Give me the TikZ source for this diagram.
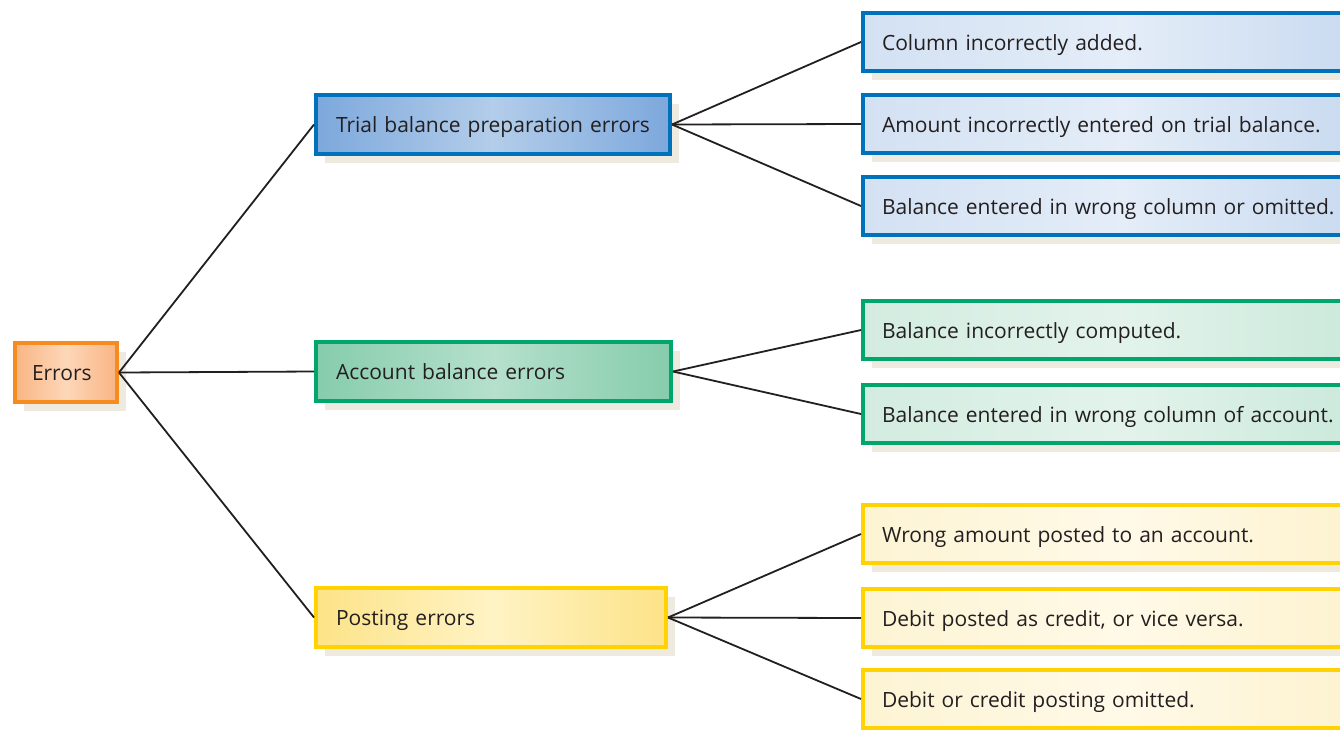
\documentclass[tikz,border=0pt]{standalone}
\usepackage{fontspec}
\setmainfont{Open Sans}
\usetikzlibrary{shadows}

\definecolor{inkc}{HTML}{231F20}
\definecolor{shadowc}{HTML}{EEEAE0}
\definecolor{orangeB}{HTML}{F68B1F}
\definecolor{blueB}{HTML}{0072BC}
\definecolor{greenB}{HTML}{00A66B}
\definecolor{yellowB}{HTML}{FFD200}
% fill tones: edge and centre of each gradient
\definecolor{orangeE}{HTML}{F9B584}
\definecolor{orangeC}{HTML}{FDD7B8}
\definecolor{blueE}{HTML}{7DA8DC}
\definecolor{blueC}{HTML}{B3CDEA}
\definecolor{greenE}{HTML}{86CCAC}
\definecolor{greenC}{HTML}{B5E0CC}
\definecolor{yellowE}{HTML}{FDE388}
\definecolor{yellowC}{HTML}{FEF3C4}
\definecolor{blueLL}{HTML}{D3E1F3}
\definecolor{blueLC}{HTML}{E4EDF8}
\definecolor{blueLR}{HTML}{C6D8EF}
\definecolor{greenLL}{HTML}{D3ECE0}
\definecolor{greenLC}{HTML}{E3F3EB}
\definecolor{greenLR}{HTML}{C8E8D9}
\definecolor{yellowLL}{HTML}{FDF4D3}
\definecolor{yellowLC}{HTML}{FFF9E8}
\definecolor{yellowLR}{HTML}{FDF2CC}

\tikzset{
  box/.style={rectangle, line width=4pt, anchor=west, inner xsep=20pt, inner ysep=0pt,
    align=left, text=inkc, font=\fontsize{21}{25}\selectfont,
    text height=16pt, text depth=0pt,
    drop shadow={shadow xshift=9pt, shadow yshift=-9pt, fill=shadowc, opacity=1}},
  midbox/.style={box, minimum height=59pt},
  leafbox/.style={box, minimum height=58pt, minimum width=520pt, text width=482pt, inner xsep=19pt},
  % middle color goes last: left/right color reset it
  orangebox/.style={midbox, draw=orangeB, left color=orangeE, right color=orangeE, middle color=orangeC},
  bluemid/.style={midbox, draw=blueB, left color=blueE, right color=blueE, middle color=blueC},
  greenmid/.style={midbox, draw=greenB, left color=greenE, right color=greenE, middle color=greenC},
  yellowmid/.style={midbox, draw=yellowB, left color=yellowE, right color=yellowE, middle color=yellowC},
  blueleaf/.style={leafbox, draw=blueB, left color=blueLL, right color=blueLR, middle color=blueLC},
  greenleaf/.style={leafbox, draw=greenB, left color=greenLL, right color=greenLR, middle color=greenLC},
  yellowleaf/.style={leafbox, draw=yellowB, left color=yellowLL, right color=yellowLR, middle color=yellowLC},
  link/.style={draw=inkc, line width=1.8pt},
}

\begin{document}
\begin{tikzpicture}[x=1pt, y=-1pt]
  \useasboundingbox (0,0) rectangle (1340,729);
  \fill[white] (0,0) rectangle (1340,729);

  % first level
  \node[orangebox, minimum width=102pt, text width=68pt, inner xsep=17pt] (errors) at (13,372.5) {Errors};

  % second level
  \node[bluemid, minimum width=354pt, text width=314pt] (trial) at (314,124.5) {Trial balance preparation errors};
  \node[greenmid, minimum width=355pt, text width=315pt] (account) at (314,371.5) {Account balance errors};
  \node[yellowmid, minimum width=350pt, text width=310pt] (posting) at (314,617.5) {Posting errors};

  % third level
  \node[blueleaf] (t1) at (861,42) {Column incorrectly added.};
  \node[blueleaf] (t2) at (861,124) {Amount incorrectly entered on trial balance.};
  \node[blueleaf] (t3) at (861,206) {Balance entered in wrong column or omitted.};

  \node[greenleaf] (a1) at (861,330) {Balance incorrectly computed.};
  \node[greenleaf] (a2) at (861,414) {Balance entered in wrong column of account.};

  \node[yellowleaf] (p1) at (861,534) {Wrong amount posted to an account.};
  \node[yellowleaf] (p2) at (861,618) {Debit posted as credit, or vice versa.};
  \node[yellowleaf] (p3) at (861,699) {Debit or credit posting omitted.};

  % connectors
  \path[link] (errors.east) -- (trial.west);
  \path[link] (errors.east) -- (account.west);
  \path[link] (errors.east) -- (posting.west);

  \path[link] (trial.east) -- (t1.west);
  \path[link] (trial.east) -- (t2.west);
  \path[link] (trial.east) -- (t3.west);

  \path[link] (account.east) -- (a1.west);
  \path[link] (account.east) -- (a2.west);

  \path[link] (posting.east) -- (p1.west);
  \path[link] (posting.east) -- (p2.west);
  \path[link] (posting.east) -- (p3.west);
\end{tikzpicture}
\end{document}
